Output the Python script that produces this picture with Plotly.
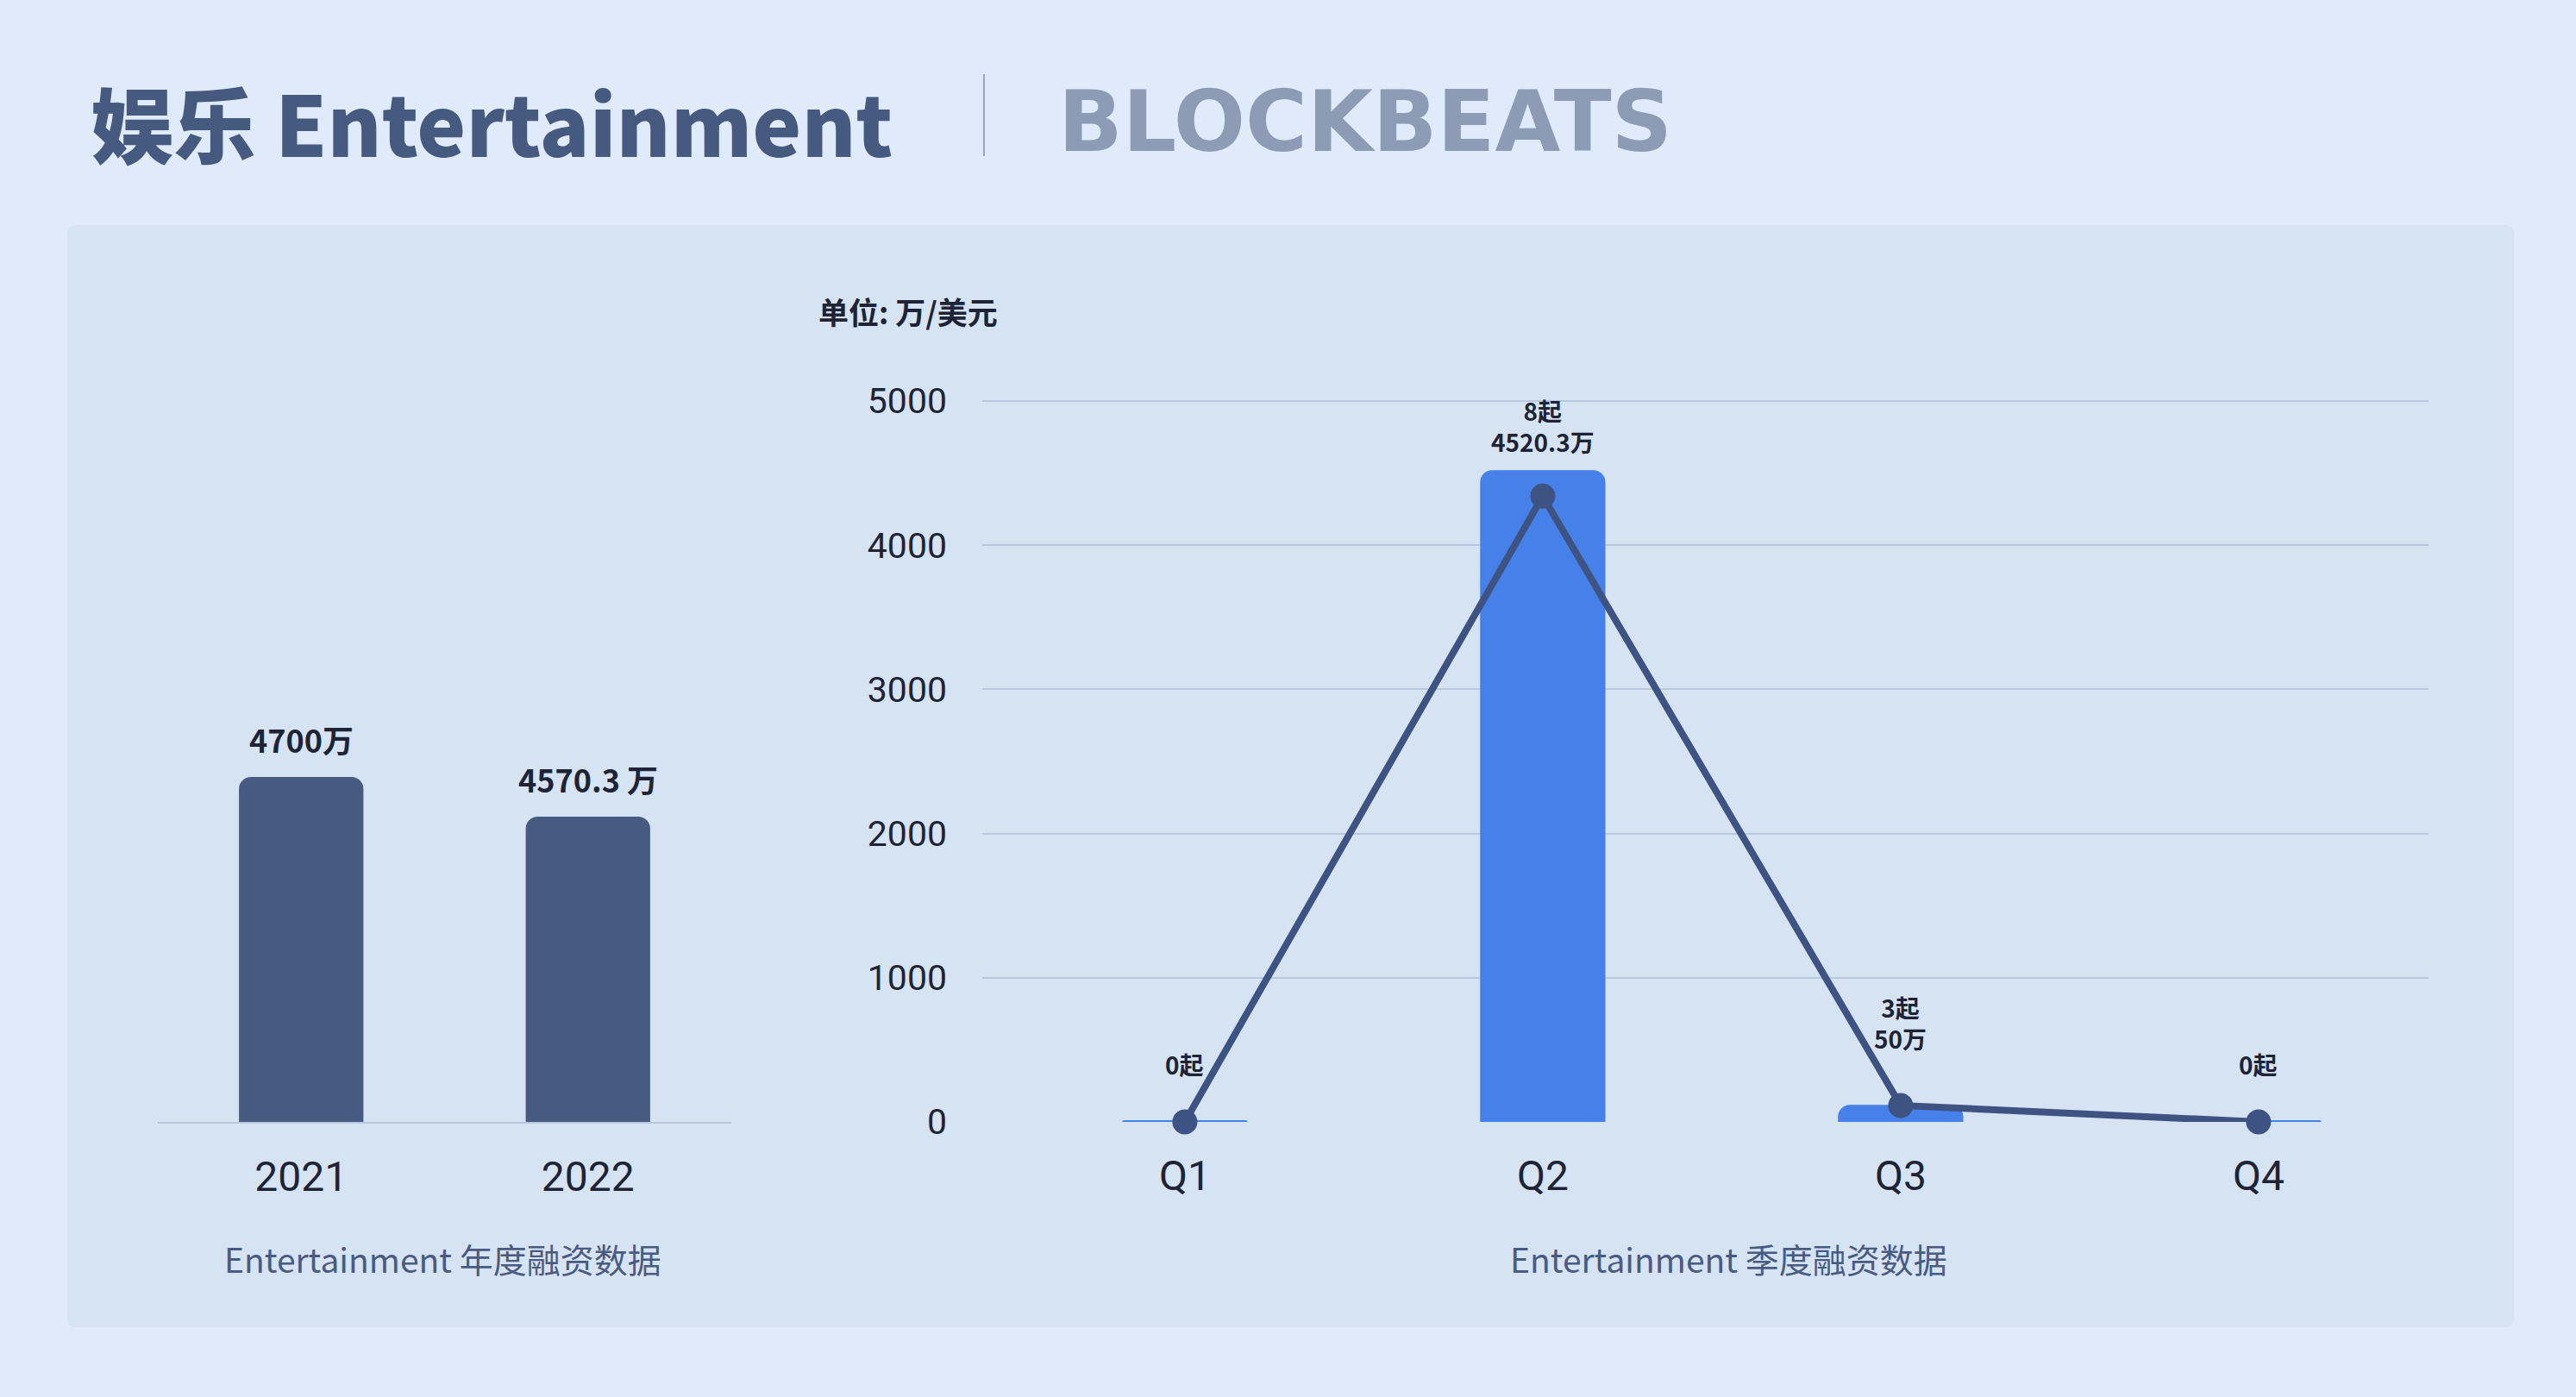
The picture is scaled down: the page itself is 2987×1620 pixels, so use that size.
import plotly.graph_objects as go

# ---------------- data ----------------
years = ["2021", "2022"]
year_amounts = [4700, 4570.3]
year_labels = ["4700万", "4570.3 万"]

quarters = ["Q1", "Q2", "Q3", "Q4"]
quarter_bar_values = [12, 4520.3, 118, 12]      # bar heights as drawn
quarter_line_values = [0, 4340, 114, 0]         # line points as drawn
quarter_counts = [0, 8, 3, 0]
quarter_amounts = [0, 4520.3, 50, 0]

y2_ticks = [0, 1000, 2000, 3000, 4000, 5000]

# ---------------- styles ----------------
W, H = 2987, 1620
BG = "#dfeafa"
PANEL = "#d6e3f3"
DARK_BAR = "#475a80"
BLUE_BAR = "#4680e9"
LINE = "#3f5383"
GRID = "#bac8dd"
TEXT = "#1e2436"
SUB = "#4a5b82"
CJK = "Noto Sans CJK SC"
NUM = "Roboto, Noto Sans CJK SC, sans-serif"

def px(x):
    return x / W

def py(y):
    return 1 - y / H

quarter_labels = [
    f"{c}起" + (f"<br>{a:g}万" if a else "")
    for c, a in zip(quarter_counts, quarter_amounts)
]
label_yshift = [65, 51, 95, 65]

fig = go.Figure()

fig.add_trace(go.Bar(
    x=years, y=year_amounts, xaxis="x", yaxis="y",
    marker=dict(color=DARK_BAR, cornerradius=14, line=dict(width=0)),
    width=0.434, hoverinfo="skip", showlegend=False,
))

fig.add_trace(go.Bar(
    x=quarters, y=quarter_bar_values, xaxis="x2", yaxis="y2",
    marker=dict(color=BLUE_BAR, cornerradius=14, line=dict(width=0)),
    width=0.35, hoverinfo="skip", showlegend=False,
))

fig.add_trace(go.Scatter(
    x=quarters, y=quarter_line_values, xaxis="x2", yaxis="y2",
    mode="lines+markers",
    line=dict(color=LINE, width=8),
    marker=dict(color=LINE, size=29),
    cliponaxis=False, hoverinfo="skip", showlegend=False,
))

annotations = []
for i, (v, t) in enumerate(zip(year_amounts, year_labels)):
    annotations.append(dict(
        x=i, y=v, xref="x", yref="y", text=f"<b>{t}</b>", showarrow=False,
        yanchor="middle", xanchor="center", yshift=44,
        font=dict(family=CJK, size=36, color=TEXT),
    ))
for i, (v, t, s) in enumerate(zip(quarter_bar_values, quarter_labels, label_yshift)):
    annotations.append(dict(
        x=i, y=v, xref="x2", yref="y2", text=f"<b>{t}</b>", showarrow=False,
        yanchor="middle", xanchor="center", yshift=s,
        font=dict(family=CJK, size=28, color=TEXT),
    ))

annotations += [
    dict(x=px(103), y=py(141), xref="paper", yref="paper", text="娱乐 Entertainment",
         showarrow=False, xanchor="left", yanchor="middle",
         font=dict(family=CJK, size=96, color="#46597f", weight=900)),
    dict(x=px(1225), y=py(141), xref="paper", yref="paper", text="<b>BLOCKBEATS</b>",
         showarrow=False, xanchor="left", yanchor="middle",
         font=dict(family="DejaVu Sans", size=98, color="#8e9bb5")),
    dict(x=px(947), y=py(360), xref="paper", yref="paper", text="<b>单位: 万/美元</b>",
         showarrow=False, xanchor="left", yanchor="middle",
         font=dict(family=CJK, size=35, color=TEXT)),
    dict(x=px(513), y=py(1459), xref="paper", yref="paper", text="Entertainment 年度融资数据",
         showarrow=False, xanchor="center", yanchor="middle",
         font=dict(family=CJK, size=39, color=SUB)),
    dict(x=px(2004), y=py(1459), xref="paper", yref="paper", text="Entertainment 季度融资数据",
         showarrow=False, xanchor="center", yanchor="middle",
         font=dict(family=CJK, size=39, color=SUB)),
]

r = 10
x0, y0, x1, y1 = px(78), py(261), px(2915), py(1539)
rx, ry = r / W, r / H
panel_path = (
    f"M {x0+rx},{y0} L {x1-rx},{y0} Q {x1},{y0} {x1},{y0-ry} "
    f"L {x1},{y1+ry} Q {x1},{y1} {x1-rx},{y1} "
    f"L {x0+rx},{y1} Q {x0},{y1} {x0},{y1+ry} "
    f"L {x0},{y0-ry} Q {x0},{y0} {x0+rx},{y0} Z"
)

shapes = [
    dict(type="path", path=panel_path, xref="paper", yref="paper",
         fillcolor=PANEL, line=dict(width=0), layer="below"),
    dict(type="line", xref="paper", yref="paper", x0=px(1141), x1=px(1141),
         y0=py(86), y1=py(181), line=dict(color="#9aa5bb", width=2)),
]

ydom = [py(1301), py(460)]

fig.update_layout(
    width=W, height=H, autosize=False,
    margin=dict(l=0, r=0, t=0, b=0, pad=0, autoexpand=False),
    paper_bgcolor=BG, plot_bgcolor="rgba(0,0,0,0)",
    annotations=annotations, shapes=shapes,
    xaxis=dict(domain=[px(183), px(848)], anchor="y", type="category", range=[-0.5, 1.5],
               showline=True, linecolor=GRID, linewidth=2, showgrid=False, zeroline=False,
               ticks="", tickfont=dict(family=NUM, size=48, color=TEXT), ticklabelstandoff=20,
               automargin=False, fixedrange=True),
    yaxis=dict(domain=ydom, anchor="x", range=[3572, 5943], showticklabels=False,
               showgrid=False, zeroline=False, showline=False, ticks="",
               automargin=False, fixedrange=True),
    xaxis2=dict(domain=[px(1139), px(2816)], anchor="y2", type="category", range=[-0.566, 3.475],
                showline=False, showgrid=False, zeroline=False, ticks="",
                tickfont=dict(family=NUM, size=48, color=TEXT), ticklabelstandoff=30,
                automargin=False, fixedrange=True),
    yaxis2=dict(domain=ydom, anchor="x2", range=[0, 5030], tickvals=y2_ticks,
                showgrid=True, gridcolor=GRID, gridwidth=2, zeroline=False, showline=False,
                ticks="", tickfont=dict(family=NUM, size=41, color=TEXT), ticklabelstandoff=40,
                automargin=False, fixedrange=True),
)

fig.write_html(
    "out.html",
    config={"displayModeBar": False},
    post_script="document.body.style.margin='0';document.body.style.overflow='hidden';",
)
